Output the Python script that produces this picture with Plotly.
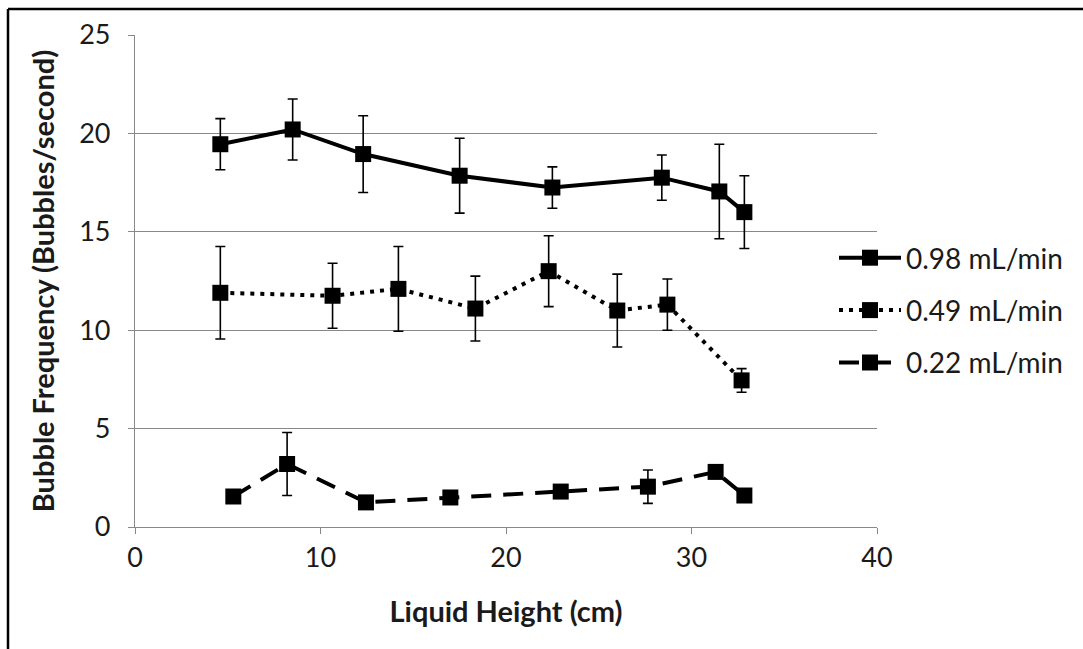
import plotly.graph_objects as go

# Series 0.98 mL/min
x_098 = [4.6, 8.5, 12.3, 17.5, 22.5, 28.4, 31.5, 32.85]
y_098 = [19.45, 20.2, 18.95, 17.85, 17.25, 17.75, 17.05, 16.0]
e_098 = [1.3, 1.55, 1.95, 1.9, 1.05, 1.15, 2.4, 1.85]

# Series 0.49 mL/min
x_049 = [4.6, 10.65, 14.2, 18.35, 22.3, 26.0, 28.7, 32.7]
y_049 = [11.9, 11.75, 12.1, 11.1, 13.0, 11.0, 11.3, 7.45]
e_049 = [2.35, 1.65, 2.15, 1.65, 1.8, 1.85, 1.3, 0.6]

# Series 0.22 mL/min
x_022 = [5.3, 8.2, 12.45, 17.0, 22.95, 27.65, 31.3, 32.85]
y_022 = [1.55, 3.2, 1.25, 1.5, 1.8, 2.05, 2.8, 1.6]
e_022 = [0.2, 1.6, 0.2, 0.2, 0.2, 0.85, 0.2, 0.2]

names = ["0.98 mL/min", "0.49 mL/min", "0.22 mL/min"]
x_ticks = [0, 10, 20, 30, 40]
y_ticks = [0, 5, 10, 15, 20, 25]

FONT = "Lato, 'Open Sans', sans-serif"
TXT = "#1a1a1a"

fig = go.Figure()
series = [(x_098, y_098, e_098, "solid"), (x_049, y_049, e_049, "dot"), (x_022, y_022, e_022, "dash")]
dash_map = {"solid": "solid", "dot": "4px,6px", "dash": "20px,12px"}
for i, (xs, ys, es, dash) in enumerate(series):
    fig.add_trace(go.Scatter(
        x=xs, y=ys, name=names[i], mode="lines+markers", legendgroup=f"g{i}",
        line=dict(color="black", width=4, dash=dash_map[dash]),
        marker=dict(symbol="square", size=16, color="black"),
        error_y=dict(type="data", array=es, visible=True, color="black", thickness=1.6, width=5),
    ))

W, H = 1083, 649
L, R, T, B = 135, 877, 35, 527
pw, ph = R - L, B - T

def px_x(p):
    return (p - L) / pw

def px_y(p):
    return (B - p) / ph

fig.update_layout(
    width=W, height=H,
    margin=dict(l=L, r=W - R, t=T, b=H - B, pad=0),
    paper_bgcolor="white", plot_bgcolor="white",
    font=dict(family=FONT, size=27, color=TXT),
    showlegend=True,
    legend=dict(x=px_x(834), y=px_y(233), xanchor="left", yanchor="top",
                font=dict(size=28, color=TXT), tracegroupgap=13,
                bgcolor="rgba(0,0,0,0)", itemwidth=62),
    xaxis=dict(range=[0, 40], tickvals=x_ticks, showgrid=False, zeroline=False,
               showline=True, linecolor="#888888", linewidth=1.2,
               ticks="outside", ticklen=6, tickcolor="#888888",
               tickfont=dict(size=27, color=TXT),
               title=dict(text="<b>Liquid Height (cm)</b>", font=dict(size=29, color=TXT), standoff=30)),
    yaxis=dict(range=[0, 25], tickvals=y_ticks, showgrid=True, gridcolor="#888888", gridwidth=1.2,
               zeroline=False, showline=True, linecolor="#888888", linewidth=1.2,
               ticks="outside", ticklen=6, tickcolor="#888888", ticklabelstandoff=12,
               tickfont=dict(size=27, color=TXT),
               title=dict(text="<b>Bubble Frequency (Bubbles/second)</b>", font=dict(size=29, color=TXT), standoff=16)),
    shapes=[
        dict(type="line", xref="paper", yref="paper", x0=px_x(8), x1=px_x(1100), y0=px_y(9), y1=px_y(9),
             line=dict(color="black", width=2.5)),
        dict(type="line", xref="paper", yref="paper", x0=px_x(8), x1=px_x(8), y0=px_y(9), y1=px_y(700),
             line=dict(color="black", width=2.5)),
    ],
)

fig.write_html("out.html")
